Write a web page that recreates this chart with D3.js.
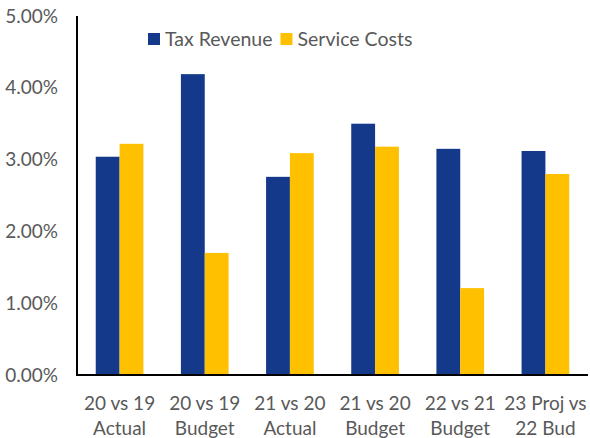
<!DOCTYPE html>
<html>
<head>
<meta charset="utf-8">
<script src="https://cdn.jsdelivr.net/npm/d3@7"></script>
<style>
  body { margin: 0; background: #fff; }
  svg { display: block; font-family: Lato, "Open Sans", sans-serif; }
</style>
</head>
<body>
<div id="chart"></div>
<script>
const categories = [
  ['20 vs 19', 'Actual'],
  ['20 vs 19', 'Budget'],
  ['21 vs 20', 'Actual'],
  ['21 vs 20', 'Budget'],
  ['22 vs 21', 'Budget'],
  ['23 Proj vs', '22 Bud'],
];
const taxRevenue = [0.0304, 0.0419, 0.0276, 0.0350, 0.0315, 0.0312];
const serviceCosts = [0.0322, 0.0170, 0.0309, 0.0318, 0.0121, 0.0280];
const seriesNames = ['Tax Revenue', 'Service Costs'];
const yTicks = [0, 0.01, 0.02, 0.03, 0.04, 0.05];

const COLORS = ['#14398a', '#ffc000'];

const width = 590, height = 438;
const margin = { top: 16, right: 2, bottom: 63, left: 77 };

const svg = d3.select('#chart').append('svg')
  .attr('width', width)
  .attr('height', height);

const x = d3.scaleBand()
  .domain(categories.map((d, i) => i))
  .range([margin.left, width - margin.right])
  .paddingInner(0.44)
  .paddingOuter(0.22);

const x1 = d3.scaleBand()
  .domain([0, 1])
  .range([0, x.bandwidth()]);

const y = d3.scaleLinear()
  .domain([0, 0.05])
  .range([height - margin.bottom, margin.top]);

// bars
const groups = svg.append('g')
  .selectAll('g')
  .data(categories.map((c, i) => [taxRevenue[i], serviceCosts[i]]))
  .join('g')
  .attr('transform', (d, i) => `translate(${x(i)},0)`);

groups.selectAll('rect')
  .data(d => d)
  .join('rect')
  .attr('x', (d, j) => x1(j))
  .attr('y', d => y(d))
  .attr('width', x1.bandwidth())
  .attr('height', d => y(0) - y(d))
  .attr('fill', (d, j) => COLORS[j]);

// y axis labels
const yAxis = d3.axisLeft(y)
  .tickValues(yTicks)
  .tickFormat(d3.format('.2%'))
  .tickSize(0)
  .tickPadding(19);

svg.append('g')
  .attr('transform', `translate(${margin.left},0)`)
  .call(yAxis)
  .call(g => g.select('.domain').remove())
  .selectAll('text')
  .attr('fill', '#595959')
  .attr('font-size', '19px')
  .attr('font-family', 'Lato, "Open Sans", sans-serif');

// axis lines
svg.append('line')
  .attr('x1', margin.left).attr('x2', margin.left)
  .attr('y1', margin.top).attr('y2', y(0) + 1)
  .attr('stroke', '#000').attr('stroke-width', 2);

svg.append('line')
  .attr('x1', margin.left - 1).attr('x2', width - margin.right)
  .attr('y1', y(0)).attr('y2', y(0))
  .attr('stroke', '#000').attr('stroke-width', 2);

// x labels
const xl = svg.append('g')
  .selectAll('text')
  .data(categories)
  .join('text')
  .attr('x', (d, i) => x(i) + x.bandwidth() / 2)
  .attr('y', y(0) + 35)
  .attr('text-anchor', 'middle')
  .attr('fill', '#595959')
  .attr('font-size', '19px');

xl.append('tspan').text(d => d[0]);
xl.append('tspan')
  .attr('x', (d, i) => x(i) + x.bandwidth() / 2)
  .attr('dy', 25)
  .text(d => d[1]);

// legend
const legend = svg.append('g').attr('transform', 'translate(148,33)');
let lx = 0;
seriesNames.forEach((name, i) => {
  const item = legend.append('g').attr('transform', `translate(${lx},0)`);
  item.append('rect')
    .attr('width', 12).attr('height', 12)
    .attr('fill', COLORS[i]);
  const t = item.append('text')
    .attr('x', 17).attr('y', 12.5)
    .attr('fill', '#595959')
    .attr('font-size', '19.5px')
    .text(name);
  lx += 17 + t.node().getComputedTextLength() + 8;
});
</script>
</body>
</html>
